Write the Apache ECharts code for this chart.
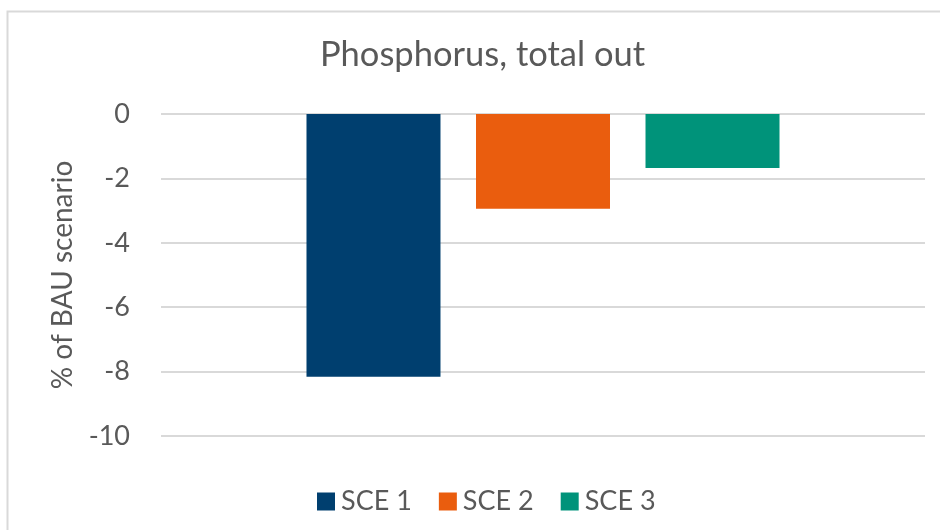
<!DOCTYPE html>
<html>
<head>
<meta charset="utf-8">
<script src="https://cdn.jsdelivr.net/npm/echarts@6/dist/echarts.min.js"></script>
<style>
html,body{margin:0;padding:0;background:#fff;}
#chart{width:940px;height:530px;}
</style>
</head>
<body>
<div id="chart"></div>
<script>
const titleText = "Phosphorus, total out";
const categories = ["Phosphorus, total out"];
const seriesNames = ["SCE 1", "SCE 2", "SCE 3"];
const sce1 = [-8.16];
const sce2 = [-2.94];
const sce3 = [-1.68];
const yTicks = [0, -2, -4, -6, -8, -10];
const yAxisName = "% of BAU scenario";

const colors = ["#003F6F", "#EA5D0E", "#00937A"];
const seriesData = [sce1, sce2, sce3];
const FONT = "Lato";
const TXT = "#595959";

const chart = echarts.init(document.getElementById('chart'), null, {renderer: 'canvas'});
chart.setOption({
  animation: false,
  backgroundColor: '#fff',
  color: colors,
  graphic: [{
    type: 'rect',
    shape: {x: 7.5, y: 11.5, width: 1000, height: 1000},
    style: {fill: 'none', stroke: '#d9d9d9', lineWidth: 2},
    z: -10
  }],
  title: {
    text: titleText,
    left: 315,
    top: 32,
    textStyle: {fontFamily: FONT, fontSize: 34.5, fontWeight: 'normal', color: TXT}
  },
  legend: {
    data: seriesNames,
    left: 312,
    top: 483,
    itemWidth: 18,
    itemHeight: 18,
    itemGap: 27,
    icon: 'rect',
    textStyle: {fontFamily: FONT, fontSize: 27, color: TXT, padding: [0,0,0,1]}
  },
  grid: {left: 161, right: 15, top: 114, bottom: 94, containLabel: false},
  xAxis: {
    type: 'category',
    data: categories,
    axisLine: {show: false},
    axisTick: {show: false},
    axisLabel: {show: false}
  },
  yAxis: {
    type: 'value',
    min: -10,
    max: 0,
    interval: 2,
    name: yAxisName,
    nameLocation: 'middle',
    nameGap: 84,
    nameTextStyle: {fontFamily: FONT, fontSize: 28, color: TXT},
    axisLine: {show: false},
    axisTick: {show: false},
    axisLabel: {
      fontFamily: FONT, fontSize: 27, color: TXT, margin: 31,
      formatter: function (v) { return yTicks.indexOf(v) >= 0 ? String(v) : ''; }
    },
    splitLine: {lineStyle: {color: '#d9d9d9', width: 2}}
  },
  series: seriesNames.map(function (n, i) {
    return {
      name: n,
      type: 'bar',
      data: seriesData[i],
      barWidth: 134,
      barGap: '26.5%',
      itemStyle: {color: colors[i]}
    };
  })
});
</script>
</body>
</html>
